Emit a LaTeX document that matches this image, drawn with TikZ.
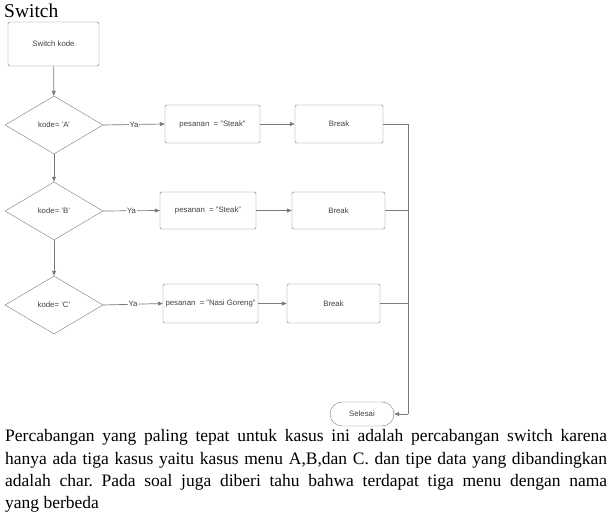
\documentclass[tikz,border=0pt]{standalone}
\usepackage{fontspec}
\setmainfont{Liberation Serif}
\setsansfont{Liberation Sans}
\usetikzlibrary{shapes.geometric,arrows.meta}
\definecolor{linegray}{HTML}{7A7A7A}
\definecolor{textgray}{HTML}{404040}
\begin{document}
\begin{tikzpicture}[x=1pt,y=-1pt,
	box/.style={draw=linegray,rounded corners=1.5pt,inner sep=0pt,font=\sffamily\fontsize{7.8}{9}\selectfont,text=textgray},
	cond/.style={draw=linegray,diamond,aspect=1.7,minimum width=98pt,minimum height=58pt,inner sep=0pt,font=\sffamily\fontsize{7.8}{9}\selectfont,text=textgray},
	ends/.style={draw=linegray,rounded corners=12pt,minimum width=64pt,minimum height=24pt,inner sep=0pt,font=\sffamily\fontsize{7.8}{9}\selectfont,text=textgray},
	flow/.style={draw=linegray,line width=0.7pt,-{Triangle[length=5pt,width=4pt]}},
	ya/.style={fill=white,inner sep=1pt,font=\sffamily\fontsize{7.8}{9}\selectfont,text=textgray}]
	\useasboundingbox (0,0) rectangle (614,513);
	% title
	\node[anchor=base west,inner sep=0pt,font=\fontsize{19.5}{22}\selectfont] (judul) at (4,17.5) {Switch};
	% flowchart
	\node[box,minimum width=91pt,minimum height=44pt] (kode) at (53.5,44) {Switch kode};
	\node[cond] (dA) at (54,125) {kode= 'A'};
	\node[cond] (dB) at (54,211) {kode= 'B'};
	\node[cond] (dC) at (54,305) {kode= 'C'};
	\node[box,minimum width=95pt,minimum height=38pt] (pA) at (212.5,124) {pesanan \ = "Steak"};
	\node[box,minimum width=96pt,minimum height=37pt] (pB) at (208,210.5) {pesanan \ = "Steak"};
	\node[box,minimum width=95pt,minimum height=39pt] (pC) at (210.5,303.5) {pesanan \ = "Nasi Goreng"};
	\node[box,minimum width=88pt,minimum height=38pt] (bA) at (339,124) {Break};
	\node[box,minimum width=93pt,minimum height=37pt] (bB) at (338.5,210.5) {Break};
	\node[box,minimum width=93pt,minimum height=39pt] (bC) at (333.5,303.5) {Break};
	\node[ends] (selesai) at (362,414) {Selesai};
	\coordinate (kanan) at (408,414);
	\draw[flow] (kode) -- (dA);
	\draw[flow] (dA) -- (dB);
	\draw[flow] (dB) -- (dC);
	\draw[flow] (dA.east) -- node[ya] {Ya} (pA.west);
	\draw[flow] (dB.east) -- node[ya] {Ya} (pB.west);
	\draw[flow] (dC.east) -- node[ya] {Ya} (pC.west);
	\draw[flow] (pA) -- (bA);
	\draw[flow] (pB) -- (bB);
	\draw[flow] (pC) -- (bC);
	\draw[draw=linegray,line width=0.7pt] (bA.east) -| (kanan);
	\draw[draw=linegray,line width=0.7pt] (bB.east) -- (bB.east -| kanan);
	\draw[draw=linegray,line width=0.7pt] (bC.east) -- (bC.east -| kanan);
	\draw[flow] (kanan) -- (selesai.east);
	% penjelasan
	\node[anchor=north west,inner sep=0pt,text width=602pt,align=justify,font=\fontsize{17.5}{22.2}\selectfont\frenchspacing] (teks) at (5,429.5) {Percabangan yang paling tepat untuk kasus ini adalah percabangan switch karena\linebreak hanya ada tiga kasus yaitu kasus menu A,B,dan C. dan tipe data yang dibandingkan\linebreak adalah char. Pada soal juga diberi tahu bahwa terdapat tiga menu dengan nama\linebreak yang berbeda};
\end{tikzpicture}
\end{document}
